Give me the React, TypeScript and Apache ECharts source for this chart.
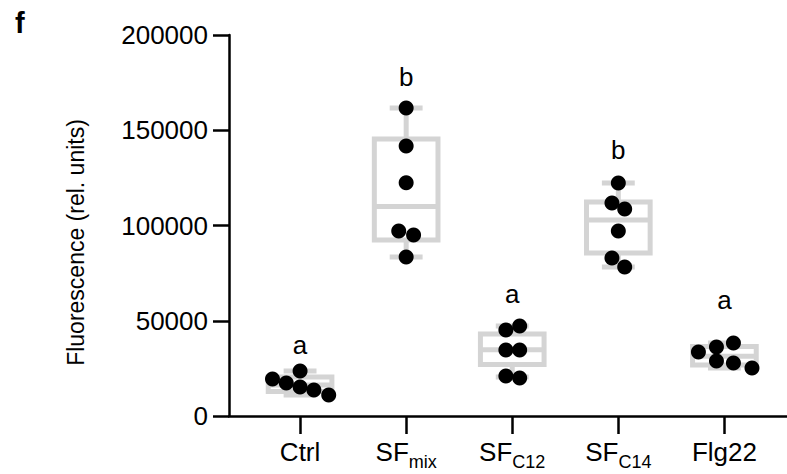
import React, { useEffect, useRef } from "react";
import * as echarts from "echarts";

const categoryMain = ["Ctrl", "SF", "SF", "SF", "Flg22"];
const categorySub = ["", "mix", "C12", "C14", ""];

const boxMin = [11000, 83500, 20500, 78200, 25200];
const boxQ1 = [12900, 92400, 27000, 85500, 26800];
const boxMedian = [16250, 110000, 34800, 102900, 31300];
const boxQ3 = [20500, 145400, 43000, 112400, 36500];
const boxMax = [23600, 161700, 47250, 122300, 38300];

const ctrlValues = [19400, 17300, 23600, 15200, 13650, 11000];
const ctrlOffsets = [-0.26, -0.13, 0, 0, 0.13, 0.27];
const sfMixValues = [161700, 141750, 122500, 97100, 95000, 83500];
const sfMixOffsets = [0, 0, 0, -0.07, 0.07, 0];
const sfC12Values = [45150, 47250, 34650, 34650, 21000, 20000];
const sfC12Offsets = [-0.06, 0.07, -0.06, 0.07, -0.06, 0.07];
const sfC14Values = [122300, 111800, 108700, 97100, 82950, 78200];
const sfC14Offsets = [0, -0.06, 0.06, 0, -0.06, 0.06];
const flg22Values = [33600, 36200, 38300, 28900, 27800, 25200];
const flg22Offsets = [-0.245, -0.075, 0.085, -0.075, 0.085, 0.26];

const groupValues = [ctrlValues, sfMixValues, sfC12Values, sfC14Values, flg22Values];
const groupOffsets = [ctrlOffsets, sfMixOffsets, sfC12Offsets, sfC14Offsets, flg22Offsets];

const sigLetters = ["a", "b", "a", "b", "a"];
const sigLetterValues = [37500, 178000, 64000, 139500, 61000];

const yTicks = [0, 50000, 100000, 150000, 200000];

const FONT = "'Liberation Sans', Arial, sans-serif";
const GRAY = "#d4d4d4";

export default function App() {
  const ref = useRef<HTMLDivElement>(null);
  useEffect(() => {
    if (!ref.current) return;
    const chart = echarts.init(ref.current, null, { renderer: "svg" });

    const boxData = categoryMain.map((_, i) => [i, boxMin[i], boxQ1[i], boxMedian[i], boxQ3[i], boxMax[i]]);
    const pointData: number[][] = [];
    groupValues.forEach((vals, i) => {
      vals.forEach((v, j) => pointData.push([i + groupOffsets[i][j], v]));
    });
    const letterData = sigLetters.map((_, i) => [i, sigLetterValues[i]]);

    const option: any = {
      animation: false,
      backgroundColor: "#ffffff",
      title: {
        text: "f",
        left: 10,
        top: 3,
        textStyle: { fontFamily: FONT, fontWeight: "bold", fontSize: 29, color: "#000" },
      },
      grid: { left: 229, right: 0, top: 35, bottom: 58, containLabel: false },
      xAxis: {
        type: "value",
        min: -0.67,
        max: 4.59,
        splitLine: { show: false },
        axisLine: { show: true, onZero: false, lineStyle: { color: "#000", width: 2.5 } },
        axisTick: {
          show: true,
          customValues: [0, 1, 2, 3, 4],
          length: 18,
          lineStyle: { color: "#000", width: 2.5 },
        },
        axisLabel: {
          show: true,
          customValues: [0, 1, 2, 3, 4],
          margin: 21,
          color: "#000",
          fontFamily: FONT,
          fontSize: 26,
          formatter: (v: number) => {
            const i = Math.round(v);
            const sub = categorySub[i];
            return sub ? `{n|${categoryMain[i]}}{s|${sub}}` : `{n|${categoryMain[i]}}`;
          },
          rich: {
            n: { fontFamily: FONT, fontSize: 26, color: "#000", verticalAlign: "bottom", lineHeight: 28 },
            s: { fontFamily: FONT, fontSize: 18, color: "#000", verticalAlign: "bottom", padding: [0, 0, -6, 0], lineHeight: 20 },
          },
        },
      },
      yAxis: {
        type: "value",
        min: 0,
        max: 200000,
        interval: 50000,
        splitLine: { show: false },
        axisLine: { show: true, onZero: false, lineStyle: { color: "#000", width: 2.5 } },
        axisTick: { show: true, length: 16, lineStyle: { color: "#000", width: 2.5 } },
        axisLabel: {
          margin: 21,
          color: "#000",
          fontFamily: FONT,
          fontSize: 26,
          formatter: (v: number) => (yTicks.includes(v) ? String(v) : ""),
        },
        name: "Fluorescence (rel. units)",
        nameLocation: "middle",
        nameGap: 142,
        nameRotate: 90,
        nameTextStyle: { fontFamily: FONT, fontSize: 23, color: "#000", padding: [0, 34, 0, 0] },
      },
      series: [
        {
          type: "custom",
          data: boxData,
          encode: { x: 0, y: [1, 2, 3, 4, 5] },
          z: 1,
          renderItem: (params: any, api: any) => {
            const idx = api.value(0);
            const lo = api.coord([idx, api.value(1)]);
            const q1 = api.coord([idx, api.value(2)]);
            const med = api.coord([idx, api.value(3)]);
            const q3 = api.coord([idx, api.value(4)]);
            const hi = api.coord([idx, api.value(5)]);
            const hw = api.size([0.3, 0])[0];
            const cw = api.size([0.155, 0])[0];
            const x = lo[0];
            const style = { stroke: GRAY, lineWidth: 5, fill: null };
            return {
              type: "group",
              children: [
                { type: "line", shape: { x1: x, y1: hi[1], x2: x, y2: q3[1] }, style },
                { type: "line", shape: { x1: x, y1: q1[1], x2: x, y2: lo[1] }, style },
                { type: "line", shape: { x1: x - cw, y1: hi[1], x2: x + cw, y2: hi[1] }, style },
                { type: "line", shape: { x1: x - cw, y1: lo[1], x2: x + cw, y2: lo[1] }, style },
                { type: "rect", shape: { x: x - hw, y: q3[1], width: 2 * hw, height: q1[1] - q3[1] }, style },
                { type: "line", shape: { x1: x - hw, y1: med[1], x2: x + hw, y2: med[1] }, style },
              ],
            };
          },
        },
        {
          type: "scatter",
          data: pointData,
          symbol: "circle",
          symbolSize: 15,
          itemStyle: { color: "#000", opacity: 1 },
          z: 3,
        },
        {
          type: "scatter",
          data: letterData,
          symbolSize: 1,
          itemStyle: { color: "rgba(0,0,0,0)", opacity: 1 },
          label: {
            show: true,
            position: "inside",
            formatter: (p: any) => sigLetters[p.dataIndex],
            fontFamily: FONT,
            fontSize: 26,
            color: "#000",
          },
          z: 4,
        },
      ],
    };
    chart.setOption(option);
    return () => chart.dispose();
  }, []);
  return <div ref={ref} style={{ position: "fixed", left: 0, top: 0, width: 787, height: 474 }} />;
}
